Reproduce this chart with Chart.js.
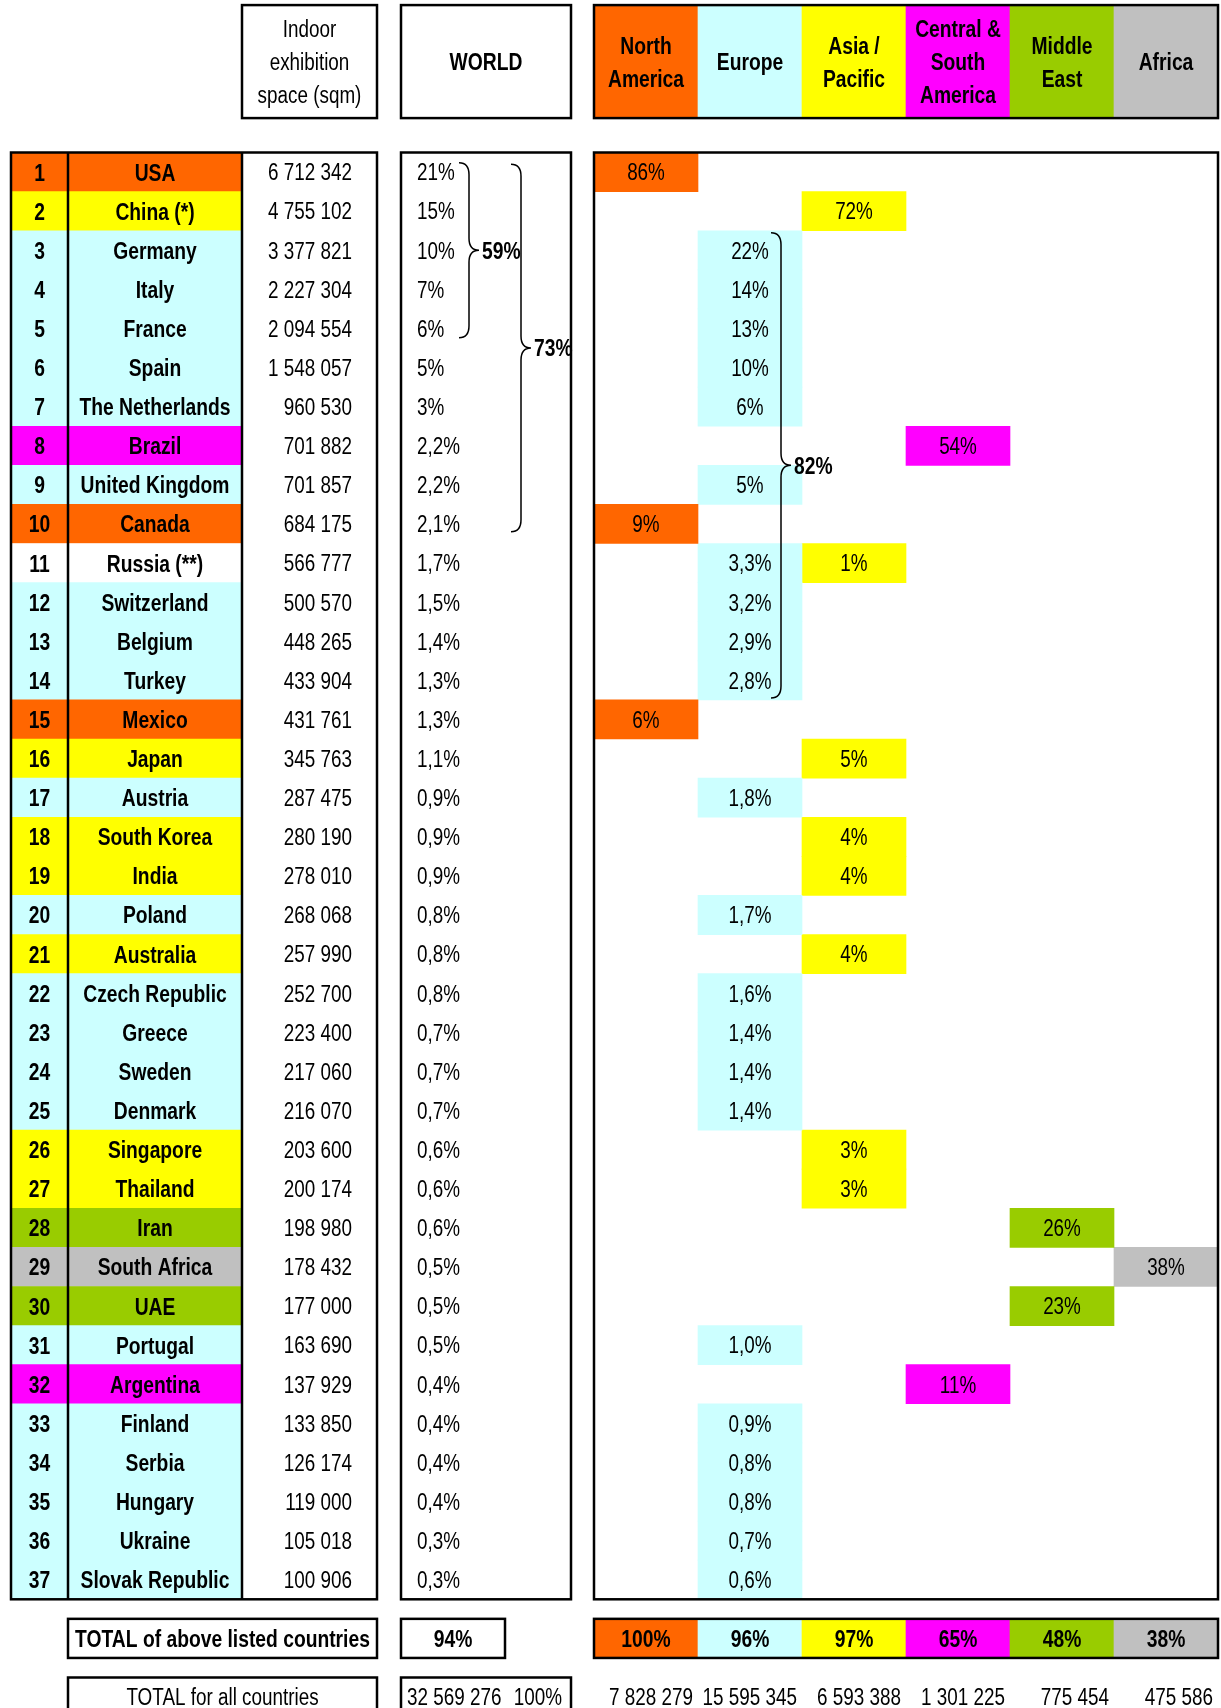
<!DOCTYPE html>
<html>
<head>
<meta charset="utf-8">
<script src="https://cdn.jsdelivr.net/npm/chart.js@4/dist/chart.umd.min.js"></script>
<style>
  html, body { margin: 0; padding: 0; background: #fff; }
  canvas { display: block; }
</style>
</head>
<body>
<canvas id="chartCanvas" width="1221" height="1708"></canvas>
<script>
// ---- data ----
const countries = ['USA', 'China (*)', 'Germany', 'Italy', 'France', 'Spain', 'The Netherlands', 'Brazil',
  'United Kingdom', 'Canada', 'Russia (**)', 'Switzerland', 'Belgium', 'Turkey', 'Mexico', 'Japan', 'Austria',
  'South Korea', 'India', 'Poland', 'Australia', 'Czech Republic', 'Greece', 'Sweden', 'Denmark', 'Singapore',
  'Thailand', 'Iran', 'South Africa', 'UAE', 'Portugal', 'Argentina', 'Finland', 'Serbia', 'Hungary', 'Ukraine',
  'Slovak Republic'];

// region of each country ('' = spans two regions, white cell)
const countryRegion = ['NA', 'AS', 'EU', 'EU', 'EU', 'EU', 'EU', 'CSA', 'EU', 'NA', '', 'EU', 'EU', 'EU', 'NA', 'AS',
  'EU', 'AS', 'AS', 'EU', 'AS', 'EU', 'EU', 'EU', 'EU', 'AS', 'AS', 'ME', 'AF', 'ME', 'EU', 'CSA', 'EU', 'EU', 'EU',
  'EU', 'EU'];

const spaceSqm = [6712342, 4755102, 3377821, 2227304, 2094554, 1548057, 960530, 701882, 701857, 684175, 566777,
  500570, 448265, 433904, 431761, 345763, 287475, 280190, 278010, 268068, 257990, 252700, 223400, 217060, 216070,
  203600, 200174, 198980, 178432, 177000, 163690, 137929, 133850, 126174, 119000, 105018, 100906];

const worldShare = ['21%', '15%', '10%', '7%', '6%', '5%', '3%', '2,2%', '2,2%', '2,1%', '1,7%', '1,5%', '1,4%',
  '1,3%', '1,3%', '1,1%', '0,9%', '0,9%', '0,9%', '0,8%', '0,8%', '0,8%', '0,7%', '0,7%', '0,7%', '0,6%', '0,6%',
  '0,6%', '0,5%', '0,5%', '0,5%', '0,4%', '0,4%', '0,4%', '0,4%', '0,3%', '0,3%'];

const regionKeys = ['NA', 'EU', 'AS', 'CSA', 'ME', 'AF'];
const regionHeaders = [['North', 'America'], ['Europe'], ['Asia /', 'Pacific'], ['Central &', 'South', 'America'],
  ['Middle', 'East'], ['Africa']];

const shareNorthAmerica = [['USA', '86%'], ['Canada', '9%'], ['Mexico', '6%']];
const shareEurope = [['Germany', '22%'], ['Italy', '14%'], ['France', '13%'], ['Spain', '10%'],
  ['The Netherlands', '6%'], ['United Kingdom', '5%'], ['Russia (**)', '3,3%'], ['Switzerland', '3,2%'],
  ['Belgium', '2,9%'], ['Turkey', '2,8%'], ['Austria', '1,8%'], ['Poland', '1,7%'], ['Czech Republic', '1,6%'],
  ['Greece', '1,4%'], ['Sweden', '1,4%'], ['Denmark', '1,4%'], ['Portugal', '1,0%'], ['Finland', '0,9%'],
  ['Serbia', '0,8%'], ['Hungary', '0,8%'], ['Ukraine', '0,7%'], ['Slovak Republic', '0,6%']];
const shareAsiaPacific = [['China (*)', '72%'], ['Russia (**)', '1%'], ['Japan', '5%'], ['South Korea', '4%'],
  ['India', '4%'], ['Australia', '4%'], ['Singapore', '3%'], ['Thailand', '3%']];
const shareCentralSouthAmerica = [['Brazil', '54%'], ['Argentina', '11%']];
const shareMiddleEast = [['Iran', '26%'], ['UAE', '23%']];
const shareAfrica = [['South Africa', '38%']];
const regionShares = [shareNorthAmerica, shareEurope, shareAsiaPacific, shareCentralSouthAmerica, shareMiddleEast, shareAfrica];

const regionListedShare = ['100%', '96%', '97%', '65%', '48%', '38%'];
const regionTotalSqm = [7828279, 15595345, 6593388, 1301225, 775454, 475586];
const worldListedShare = '94%';
const worldTotalSqm = 32569276;
const worldTotalShare = '100%';

const braces = [
  { from: 'USA', to: 'France', label: '59%' },
  { from: 'USA', to: 'Canada', label: '73%' },
  { from: 'Germany', to: 'Turkey', label: '82%' }
];

// ---- layout / style ----
const W = 1221, H = 1708;
const Y_MIN = -4.40, Y_MAX = 39.28;              // y scale in table rows
const ROW_PX = H / (Y_MAX - Y_MIN);
const HEADER_TOP = -4.27, HEADER_BOTTOM = -1.38;
const HEADER_MID = (HEADER_TOP + HEADER_BOTTOM) / 2;
const LISTED_ROW = 37.5, ALL_ROW = 39;
const COL = { rank: [11, 68], name: [68, 242], value: [242, 377], world: [401, 571], listed: [401, 505], region: [594, 1218] };
const REGION_W = (COL.region[1] - COL.region[0]) / regionKeys.length;
const regionCol = k => [COL.region[0] + k * REGION_W, COL.region[0] + (k + 1) * REGION_W];
const braceLayout = [{ x: 469, inset: 0.26 }, { x: 521, inset: 0.3 }, { x: 781, inset: 0.05 }];

const regionColors = { NA: '#ff6600', EU: '#ccffff', AS: '#ffff00', CSA: '#ff00ff', ME: '#99cc00', AF: '#c0c0c0' };
const FONT_SIZE = 23, FONT_SIZE_BOLD = 23.5;
const TEXT_DY = 2;

function hasFont(name) {
  const c = document.createElement('canvas').getContext('2d');
  c.font = '40px monospace';
  const a = c.measureText('The Netherlands 0123').width;
  c.font = `40px '${name}', monospace`;
  return c.measureText('The Netherlands 0123').width !== a;
}
const narrowFont = hasFont('Liberation Sans Narrow');
const FAMILY = narrowFont ? "'Liberation Sans Narrow', sans-serif" : "'Liberation Sans', Arial, sans-serif";
const SQUEEZE = narrowFont ? 1 : 0.82;

const fmt = n => String(n).replace(/\B(?=(\d{3})+(?!\d))/g, ' ');

function drawText(ctx, str, x, y, align, bold) {
  ctx.save();
  ctx.font = bold ? `bold ${FONT_SIZE_BOLD}px ${FAMILY}` : `${FONT_SIZE}px ${FAMILY}`;
  ctx.textBaseline = 'middle';
  ctx.textAlign = align;
  ctx.fillStyle = '#000';
  ctx.translate(x, y + TEXT_DY);
  ctx.scale(SQUEEZE, 1);
  ctx.fillText(str, 0, 0);
  ctx.restore();
}

function drawBrace(ctx, x, y1, y2, w) {
  const ym = (y1 + y2) / 2;
  const r = 12;
  ctx.beginPath();
  ctx.moveTo(x - w, y1);
  ctx.quadraticCurveTo(x, y1, x, y1 + r);
  ctx.lineTo(x, ym - r);
  ctx.quadraticCurveTo(x, ym, x + w, ym);
  ctx.quadraticCurveTo(x, ym, x, ym + r);
  ctx.lineTo(x, y2 - r);
  ctx.quadraticCurveTo(x, y2, x - w, y2);
  ctx.stroke();
}

const tablePlugin = {
  id: 'tablePlugin',
  afterDatasetsDraw(chart) {
    const ctx = chart.ctx;
    const sx = v => chart.scales.x.getPixelForValue(v);
    const sy = v => chart.scales.y.getPixelForValue(v);
    const box = (x0, x1, y0, y1) => ctx.strokeRect(sx(x0), sy(y0), sx(x1) - sx(x0), sy(y1) - sy(y0));
    const mid = ([a, b]) => (sx(a) + sx(b)) / 2;

    // header texts
    drawText(ctx, 'Indoor', mid(COL.value), sy(HEADER_MID) - 33, 'center', false);
    drawText(ctx, 'exhibition', mid(COL.value), sy(HEADER_MID), 'center', false);
    drawText(ctx, 'space (sqm)', mid(COL.value), sy(HEADER_MID) + 33, 'center', false);
    drawText(ctx, 'WORLD', mid(COL.world), sy(HEADER_MID), 'center', true);
    regionHeaders.forEach((lines, k) => {
      lines.forEach((line, j) => {
        drawText(ctx, line, mid(regionCol(k)), sy(HEADER_MID) + (j - (lines.length - 1) / 2) * 33, 'center', true);
      });
    });

    // country rows
    countries.forEach((c, i) => {
      const y = sy(i);
      drawText(ctx, String(i + 1), mid(COL.rank), y, 'center', true);
      drawText(ctx, c, mid(COL.name), y, 'center', true);
      drawText(ctx, fmt(spaceSqm[i]), sx(COL.value[1] - 25), y, 'right', false);
      drawText(ctx, worldShare[i], sx(COL.world[0] + 16), y, 'left', false);
    });

    // region share labels, read from the bar elements
    regionShares.forEach((shares, k) => {
      const meta = chart.getDatasetMeta(k + 1);
      meta.data.forEach((bar, i) => drawText(ctx, shares[i][1], (bar.x + bar.base) / 2, bar.y, 'center', false));
    });
    const listedMeta = chart.getDatasetMeta(regionShares.length + 2);
    listedMeta.data.forEach((bar, k) => drawText(ctx, regionListedShare[k], (bar.x + bar.base) / 2, bar.y, 'center', true));

    // totals
    drawText(ctx, 'TOTAL of above listed countries', (sx(COL.name[0]) + sx(COL.value[1])) / 2, sy(LISTED_ROW), 'center', true);
    drawText(ctx, worldListedShare, mid(COL.listed), sy(LISTED_ROW), 'center', true);
    drawText(ctx, 'TOTAL for all countries', (sx(COL.name[0]) + sx(COL.value[1])) / 2, sy(ALL_ROW), 'center', false);
    drawText(ctx, fmt(worldTotalSqm), sx(COL.world[0] + 6), sy(ALL_ROW), 'left', false);
    drawText(ctx, worldTotalShare, sx(COL.world[1] - 9), sy(ALL_ROW), 'right', false);
    regionTotalSqm.forEach((v, k) => drawText(ctx, fmt(v), sx(regionCol(k)[1] - 5), sy(ALL_ROW), 'right', false));

    // borders
    ctx.save();
    ctx.strokeStyle = '#000';
    ctx.lineWidth = 2.5;
    box(COL.value[0], COL.value[1], HEADER_TOP, HEADER_BOTTOM);
    box(COL.world[0], COL.world[1], HEADER_TOP, HEADER_BOTTOM);
    box(COL.region[0], COL.region[1], HEADER_TOP, HEADER_BOTTOM);
    box(COL.rank[0], COL.value[1], -0.5, countries.length - 0.5);
    box(COL.world[0], COL.world[1], -0.5, countries.length - 0.5);
    box(COL.region[0], COL.region[1], -0.5, countries.length - 0.5);
    [COL.name[0], COL.value[0]].forEach(x => {
      ctx.beginPath();
      ctx.moveTo(sx(x), sy(-0.5));
      ctx.lineTo(sx(x), sy(countries.length - 0.5));
      ctx.stroke();
    });
    box(COL.name[0], COL.value[1], LISTED_ROW - 0.5, LISTED_ROW + 0.5);
    box(COL.listed[0], COL.listed[1], LISTED_ROW - 0.5, LISTED_ROW + 0.5);
    box(COL.region[0], COL.region[1], LISTED_ROW - 0.5, LISTED_ROW + 0.5);
    box(COL.name[0], COL.value[1], ALL_ROW - 0.5, ALL_ROW + 0.7);
    box(COL.world[0], COL.world[1], ALL_ROW - 0.5, ALL_ROW + 0.7);

    // braces
    ctx.lineWidth = 1.5;
    braces.forEach((b, j) => {
      const r0 = countries.indexOf(b.from) - 0.5 + braceLayout[j].inset;
      const r1 = countries.indexOf(b.to) + 0.5 - braceLayout[j].inset;
      const x = sx(braceLayout[j].x);
      drawBrace(ctx, x, sy(r0), sy(r1), 10);
      drawText(ctx, b.label, x + 13, sy((r0 + r1) / 2), 'left', true);
    });
    ctx.restore();
  }
};

// ---- chart ----
const cellOpts = { grouped: false, barThickness: ROW_PX, categoryPercentage: 1, barPercentage: 1, borderWidth: 0, borderSkipped: false };

const datasets = [
  {
    label: 'Countries',
    data: countries.map((c, i) => ({ x: [COL.rank[0], COL.name[1]], y: i })),
    backgroundColor: countryRegion.map(r => regionColors[r] || '#ffffff'),
    ...cellOpts
  },
  ...regionShares.map((shares, k) => ({
    label: regionHeaders[k].join(' '),
    data: shares.map(([c]) => ({ x: regionCol(k), y: countries.indexOf(c) })),
    backgroundColor: regionColors[regionKeys[k]],
    ...cellOpts
  })),
  {
    label: 'Region headers',
    data: regionKeys.map((key, k) => ({ x: regionCol(k), y: HEADER_MID })),
    backgroundColor: regionKeys.map(key => regionColors[key]),
    ...cellOpts,
    barThickness: (HEADER_BOTTOM - HEADER_TOP) * ROW_PX
  },
  {
    label: 'Listed total',
    data: regionKeys.map((key, k) => ({ x: regionCol(k), y: LISTED_ROW })),
    backgroundColor: regionKeys.map(key => regionColors[key]),
    ...cellOpts
  }
];

const ctx = document.getElementById('chartCanvas').getContext('2d');
const myChart = new Chart(ctx, {
  type: 'bar',
  data: { datasets: datasets },
  options: {
    indexAxis: 'y',
    responsive: false,
    animation: false,
    events: [],
    layout: { padding: 0 },
    scales: {
      x: { type: 'linear', min: 0, max: W, display: false },
      y: { type: 'linear', min: Y_MIN, max: Y_MAX, reverse: true, offset: false, display: false }
    },
    plugins: {
      legend: { display: false },
      tooltip: { enabled: false }
    }
  },
  plugins: [tablePlugin]
});
</script>
</body>
</html>
